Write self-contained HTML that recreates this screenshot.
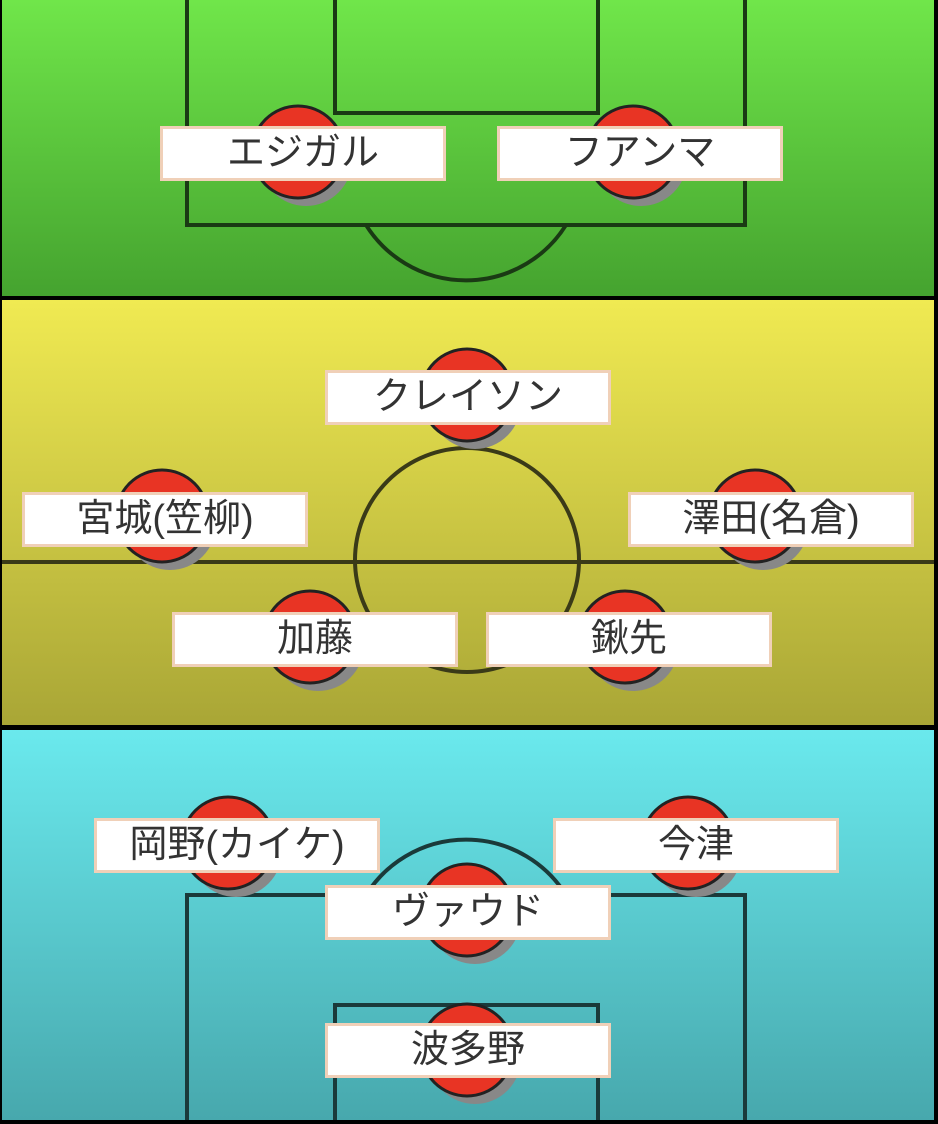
<!DOCTYPE html>
<html><head><meta charset="utf-8"><style>
html,body{margin:0;padding:0;background:#000;}
body{width:938px;height:1124px;position:relative;overflow:hidden;}
.lb{position:absolute;background:#fff;border:3px solid #f0d0b8;box-sizing:border-box;height:55px;width:286px;text-align:center;font:38px/49px "Liberation Sans","Noto Sans CJK JP",sans-serif;color:#333;}
</style></head><body>
<svg width="938" height="1124" style="position:absolute;left:0;top:0">
<defs>
<linearGradient id="g1" x1="0" y1="0" x2="0" y2="1"><stop offset="0" stop-color="#70e64a"/><stop offset="1" stop-color="#45a32f"/></linearGradient>
<linearGradient id="g2" x1="0" y1="0" x2="0" y2="1"><stop offset="0" stop-color="#f0ea52"/><stop offset="1" stop-color="#a9a636"/></linearGradient>
<linearGradient id="g3" x1="0" y1="0" x2="0" y2="1"><stop offset="0" stop-color="#6ae9ed"/><stop offset="1" stop-color="#47a8ad"/></linearGradient>
</defs>
<rect x="2" y="0" width="932" height="296" fill="url(#g1)"/>
<rect x="2" y="300" width="932" height="425" fill="url(#g2)"/>
<rect x="2" y="730" width="932" height="390" fill="url(#g3)"/>
<g stroke="#1a3a14" stroke-width="4" fill="none">
<path d="M187 0V225H745V0M335 0V113H598V0"/>
<path d="M366 225A118 118 0 0 0 566 225"/>
</g>
<g stroke="#3a3a18" stroke-width="4" fill="none">
<path d="M2 562H934"/>
<circle cx="467" cy="560" r="112"/>
</g>
<g stroke="#1a3a3a" stroke-width="4" fill="none">
<path d="M187 1120V895H745V1120M335 1120V1005H598V1120"/>
<path d="M366 895A118 118 0 0 1 566 895"/>
</g>
<g fill="#888">
<circle cx="306" cy="160" r="46"/><circle cx="641" cy="160" r="46"/>
<circle cx="475" cy="403" r="46"/><circle cx="170" cy="524" r="46"/><circle cx="763" cy="524" r="46"/><circle cx="318" cy="645" r="46"/><circle cx="633" cy="645" r="46"/>
<circle cx="236" cy="851" r="46"/><circle cx="696" cy="851" r="46"/><circle cx="475" cy="918" r="46"/><circle cx="475" cy="1058" r="46"/>
</g>
<g fill="#e83424" stroke="#222" stroke-width="3">
<circle cx="298" cy="152" r="46"/><circle cx="633" cy="152" r="46"/>
<circle cx="467" cy="395" r="46"/><circle cx="162" cy="516" r="46"/><circle cx="755" cy="516" r="46"/><circle cx="310" cy="637" r="46"/><circle cx="625" cy="637" r="46"/>
<circle cx="228" cy="843" r="46"/><circle cx="688" cy="843" r="46"/><circle cx="467" cy="910" r="46"/><circle cx="467" cy="1050" r="46"/>
</g>
</svg>
<div class="lb" style="left:160px;top:126px">エジガル</div>
<div class="lb" style="left:497px;top:126px">フアンマ</div>
<div class="lb" style="left:325px;top:370px">クレイソン</div>
<div class="lb" style="left:22px;top:492px">宮城(笠柳)</div>
<div class="lb" style="left:628px;top:492px">澤田(名倉)</div>
<div class="lb" style="left:172px;top:612px">加藤</div>
<div class="lb" style="left:486px;top:612px">鍬先</div>
<div class="lb" style="left:94px;top:818px">岡野(カイケ)</div>
<div class="lb" style="left:553px;top:818px">今津</div>
<div class="lb" style="left:325px;top:885px">ヴァウド</div>
<div class="lb" style="left:325px;top:1023px">波多野</div>
</body></html>
